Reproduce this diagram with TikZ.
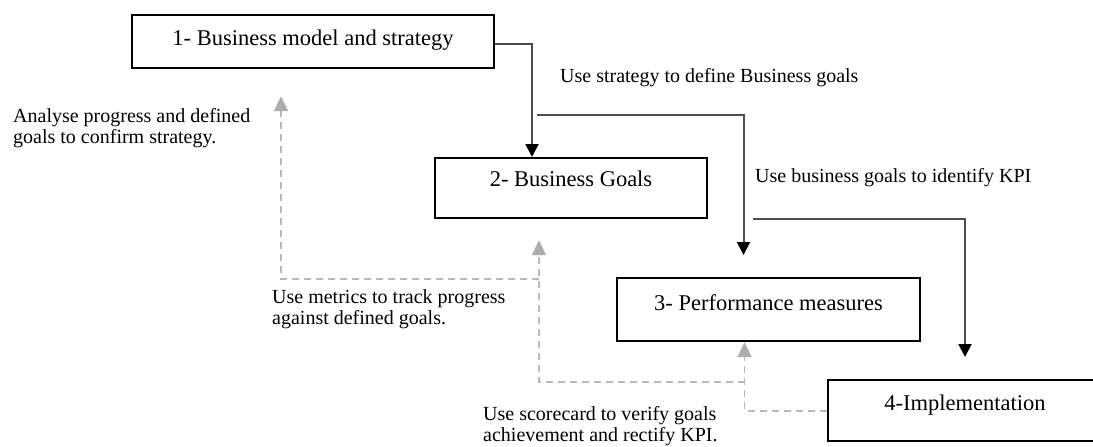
\documentclass[tikz,border=0pt]{standalone}
\usepackage{fontspec}
\setmainfont{Liberation Serif}
\usetikzlibrary{arrows.meta}
\newcommand\bxfont{\fontsize{22.5}{26}\selectfont}
\newcommand\lblfont{\fontsize{20}{21}\selectfont}
\begin{document}
\begin{tikzpicture}[x=1pt,y=-1pt,
 box/.style={draw=black, line width=2.2pt, inner xsep=0pt, inner ysep=0pt, anchor=north, font=\bxfont},
 lbl/.style={inner sep=0pt, font=\lblfont, align=left},
 conn/.style={draw=black!70, line width=2pt, -{Triangle[length=13pt,width=13pt,color=black]}},
 fb/.style={draw=black!28, line width=1.9pt, dash pattern=on 7pt off 5pt, -{Triangle[length=15pt,width=14pt,color=black!32]}}]
\fill[white] (0,0) rectangle (1093,447);
\useasboundingbox (0,0) rectangle (1093,447);
% boxes
\node[box, minimum width=362pt, text height=30pt, text depth=23pt] (b1) at (313,14) {1- Business model and strategy};
\node[box, minimum width=272pt, text height=28.5pt, text depth=31.5pt] (b2) at (571,157) {2- Business Goals};
\node[box, minimum width=303pt, text height=32pt, text depth=31pt] (b3) at (768.5,277) {3- Performance measures};
\node[box, minimum width=274pt, text height=30pt, text depth=31pt] (b4) at (965,379) {4-Implementation};
% coordinates
\coordinate (s2) at ([xshift=-34pt,yshift=42pt]b2.north);
\coordinate (t3) at ([xshift=-25pt,yshift=22pt]b3.north);
\coordinate (s3) at ([xshift=45pt]b2.south east);
\coordinate (t4) at ([yshift=22pt]b4.north);
\coordinate (j1) at ([xshift=-24pt,yshift=-40pt]b3.south);
\coordinate (t2) at ([xshift=-32pt,yshift=-21pt]b2.south);
\coordinate (j2) at ([xshift=-32pt,yshift=-60pt]b2.south);
\coordinate (t1) at ([xshift=-32pt,yshift=-27pt]b1.south);
% forward connectors
\draw[conn] ([yshift=-2.5pt]b1.east) -| ([xshift=-39pt]b2.north);
\draw[conn] (s2) -| (t3);
\draw[conn] (s3) -| (t4);
% feedback connectors
\draw[fb] (b4.west) -| ([xshift=-24pt]b3.south);
\draw[fb] (j1) -| (t2);
\draw[fb] (j2) -| (t1);
% labels
\node[lbl, anchor=north west] (l1) at (13,108) {Analyse progress and defined\\goals to confirm strategy.};
\node[lbl, anchor=base west] (l2) at (560,82) {Use strategy to define Business goals};
\node[lbl, anchor=base west] (l3) at (755,182) {Use business goals to identify KPI};
\node[lbl, anchor=north west] (l4) at (272,289) {Use metrics to track progress\\against defined goals.};
\node[lbl, anchor=north west] (l5) at (483,406) {Use scorecard to verify goals\\achievement and rectify KPI.};
\end{tikzpicture}
\end{document}
